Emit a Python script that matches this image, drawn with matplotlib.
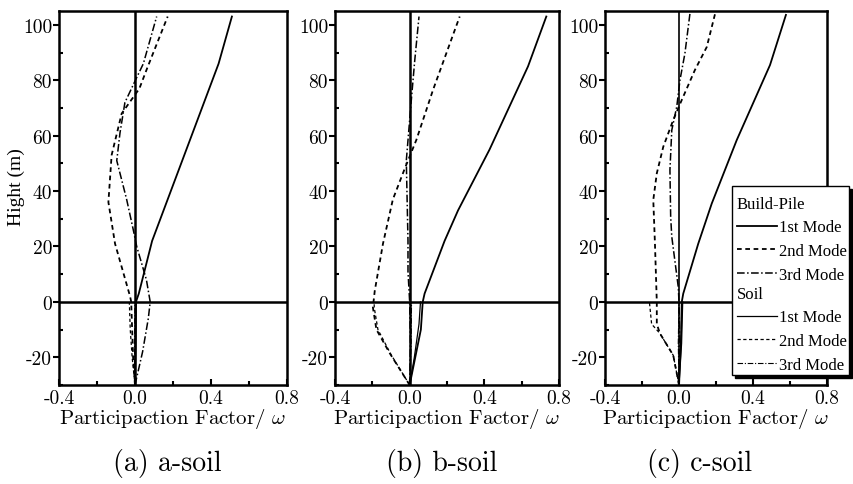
import matplotlib
matplotlib.use('Agg')
import matplotlib.pyplot as plt
from matplotlib.ticker import FixedLocator, MultipleLocator, FixedFormatter
from matplotlib.lines import Line2D
from matplotlib.patches import Rectangle

plt.rcParams['font.family'] = ['cmr10', 'DejaVu Serif']
plt.rcParams['mathtext.fontset'] = 'cm'
plt.rcParams['axes.unicode_minus'] = False
plt.rcParams['axes.formatter.use_mathtext'] = True

# ---------------- data (height in m, participation factor / omega) -------------
X_TICKS = [-0.4, 0.0, 0.4, 0.8]
X_TICK_LABELS = ['-0.4', '0.0', '0.4', '0.8']
Y_TICKS = [-20, 0, 20, 40, 60, 80, 100]
Y_TICK_LABELS = ['-20', '0', '20', '40', '60', '80', '100']
PANEL_TITLES = ['(a) a-soil', '(b) b-soil', '(c) c-soil']
MODE_LABELS = ['1st Mode', '2nd Mode', '3rd Mode']

# panel (a)
A_BP1_H = [-30, -15, 0, 3, 22, 86, 103]
A_BP1_X = [0.0, 0.002, 0.005, 0.02, 0.09, 0.44, 0.51]
A_BP2_H = [-30, -20, -10, 0, 2, 21, 36, 53, 68, 77, 84, 93, 103]
A_BP2_X = [0.0, -0.01, -0.015, -0.02, -0.026, -0.105, -0.14, -0.123, -0.07, 0.023, 0.062, 0.114, 0.172]
A_BP3_H = [-30, -18, -6, 0, 8, 20, 26, 37, 51, 61, 72, 81, 86, 103]
A_BP3_X = [0.0, 0.04, 0.07, 0.08, 0.06, 0.009, -0.009, -0.044, -0.096, -0.079, -0.053, 0.009, 0.044, 0.114]
A_S1_H = [-30, -15, 0]
A_S1_X = [0.0, 0.004, 0.006]
A_S2_H = [-30, -20, -10, 0]
A_S2_X = [0.0, -0.015, -0.025, -0.03]
A_S3_H = [-30, -15, 0]
A_S3_X = [0.0, -0.003, 0.0]

# panel (b)
B_BP1_H = [-30, -20, -10, 0, 3, 22, 33, 55, 85, 103]
B_BP1_X = [0.0, 0.03, 0.06, 0.07, 0.08, 0.187, 0.259, 0.428, 0.634, 0.732]
B_BP2_H = [-30, -18.5, -10, -2, 4, 21, 37, 48, 58.5, 76.5, 103]
B_BP2_X = [0.0, -0.107, -0.178, -0.197, -0.187, -0.143, -0.09, -0.027, 0.036, 0.125, 0.268]
B_BP3_H = [-30, -15, 0, 11, 22, 51, 73, 87, 103]
B_BP3_X = [0.0, 0.004, 0.0, -0.009, -0.009, -0.018, 0.009, 0.027, 0.05]
B_S1_H = [-30, -20, -8, 0]
B_S1_X = [0.0, 0.025, 0.05, 0.058]
B_S2_H = [-30, -19, -10, -2, 0]
B_S2_X = [0.0, -0.1, -0.17, -0.19, -0.19]
B_S3_H = [-30, -15, 0]
B_S3_X = [0.0, 0.008, 0.01]

# panel (c)
C_BP1_H = [-30, -15, 0, 3, 21, 35.5, 58.4, 85.5, 103.6]
C_BP1_X = [0.0, 0.01, 0.015, 0.023, 0.104, 0.177, 0.312, 0.492, 0.578]
C_BP2_H = [-30, -19.3, -11.4, -8, 0, 21, 36.8, 46.4, 56, 65.7, 72.9, 83.7, 92, 104]
C_BP2_X = [0.0, -0.031, -0.103, -0.12, -0.12, -0.13, -0.139, -0.12, -0.085, -0.031, 0.015, 0.086, 0.15, 0.195]
C_BP3_H = [-30, -15, 0, 5.4, 23.5, 30.7, 47.6, 62, 70.5, 80, 89.7, 104]
C_BP3_X = [0.0, 0.004, 0.0, -0.004, -0.039, -0.045, -0.049, -0.039, -0.012, 0.005, 0.032, 0.059]
C_S1_H = [-30, -15, 0]
C_S1_X = [0.0, 0.014, 0.02]
C_S2_H = [-30, -19.3, -11.4, -8, 0]
C_S2_X = [0.0, -0.031, -0.103, -0.148, -0.16]
C_S3_H = [-30, -15, 0]
C_S3_X = [0.0, -0.004, 0.0]

PANELS = [
    [(A_BP1_X, A_BP1_H), (A_BP2_X, A_BP2_H), (A_BP3_X, A_BP3_H),
     (A_S1_X, A_S1_H), (A_S2_X, A_S2_H), (A_S3_X, A_S3_H)],
    [(B_BP1_X, B_BP1_H), (B_BP2_X, B_BP2_H), (B_BP3_X, B_BP3_H),
     (B_S1_X, B_S1_H), (B_S2_X, B_S2_H), (B_S3_X, B_S3_H)],
    [(C_BP1_X, C_BP1_H), (C_BP2_X, C_BP2_H), (C_BP3_X, C_BP3_H),
     (C_S1_X, C_S1_H), (C_S2_X, C_S2_H), (C_S3_X, C_S3_H)],
]

# ---------------- styling ----------------
W, H = 854, 485
fig = plt.figure(figsize=(W / 100, H / 100), dpi=100)

STYLES = [
    dict(ls='-', lw=1.3),
    dict(ls=(0, (2.6, 2.0)), lw=1.3),
    dict(ls=(0, (5.0, 1.6, 1.0, 1.6)), lw=1.1),
    dict(ls='-', lw=0.9),
    dict(ls=(0, (2.6, 2.0)), lw=0.9),
    dict(ls=(0, (5.0, 1.6, 1.0, 1.6)), lw=0.8),
]

axes_px = [(59, 287), (335, 559), (605, 827)]
top_px, bot_px = 12, 386
title_x_px = [167, 442, 700]

for i, (x0, x1) in enumerate(axes_px):
    ax = fig.add_axes([x0 / W, 1 - bot_px / H, (x1 - x0) / W, (bot_px - top_px) / H])
    for (xs, hs), st in zip(PANELS[i], STYLES):
        ax.plot(xs, hs, color='black', **st)
    ax.axvline(0, color='black', lw=1.8 if i < 2 else 1.2)
    ax.axhline(0, color='black', lw=1.8)
    ax.set_xlim(-0.4, 0.8)
    ax.set_ylim(-30, 105)
    ax.xaxis.set_major_locator(FixedLocator(X_TICKS))
    ax.xaxis.set_major_formatter(FixedFormatter(X_TICK_LABELS))
    ax.xaxis.set_minor_locator(MultipleLocator(0.2))
    ax.yaxis.set_major_locator(FixedLocator(Y_TICKS))
    ax.yaxis.set_major_formatter(FixedFormatter(Y_TICK_LABELS))
    ax.yaxis.set_minor_locator(MultipleLocator(10))
    ax.tick_params(axis='x', which='both', direction='in', labelsize=14, pad=3)
    ax.tick_params(axis='x', which='major', length=4, width=1.5)
    ax.tick_params(axis='x', which='minor', length=3, width=1.5)
    ax.tick_params(axis='y', which='major', direction='out', length=4, width=1.5, labelsize=14, pad=1)
    ax.tick_params(axis='y', which='minor', direction='in', length=3, width=1.5)
    for sp in ax.spines.values():
        sp.set_linewidth(1.8)
    ax.set_xlabel('Participaction Factor/ $\\omega$', fontsize=15, labelpad=-1)
    if i == 0:
        ax.set_ylabel('Hight (m)', fontsize=14, family='Liberation Serif')
        ax.yaxis.set_label_coords((25 - x0) / (x1 - x0), (bot_px - 187) / (bot_px - top_px))
    fig.text(title_x_px[i] / W, 1 - 463 / H, PANEL_TITLES[i], fontsize=20,
             ha='center', va='center')

# ---------------- legend ----------------
lx0, lx1, ly0, ly1 = 732, 849, 187, 376
fig.add_artist(Rectangle(((lx0 + 3) / W, 1 - (ly1 + 3) / H), (lx1 - lx0) / W, (ly1 - ly0) / H,
                         transform=fig.transFigure, facecolor='black', edgecolor='black', zorder=7))
fig.add_artist(Rectangle((lx0 / W, 1 - ly1 / H), (lx1 - lx0) / W, (ly1 - ly0) / H,
                         transform=fig.transFigure, facecolor='white', edgecolor='black',
                         lw=1.0, zorder=7.1))

def make_handles(group):
    return [Line2D([], [], color='black', **STYLES[k]) for k in group]

leg_kw = dict(loc='upper left', bbox_transform=fig.transFigure, frameon=False,
              prop={'family': 'Liberation Serif', 'size': 12},
              title_fontproperties={'family': 'Liberation Serif', 'size': 12},
              alignment='left', handlelength=2.4, handletextpad=0.1,
              labelspacing=0.45, borderpad=0.0, borderaxespad=0.0)
leg1 = fig.legend(make_handles([0, 1, 2]), MODE_LABELS, title='Build-Pile',
                  bbox_to_anchor=((lx0 + 5) / W, 1 - (ly0 + 10) / H), **leg_kw)
leg2 = fig.legend(make_handles([3, 4, 5]), MODE_LABELS, title='Soil',
                  bbox_to_anchor=((lx0 + 5) / W, 1 - (ly0 + 100) / H), **leg_kw)
leg1.set_zorder(8)
leg2.set_zorder(8)

fig.savefig('out.png', dpi=100)
